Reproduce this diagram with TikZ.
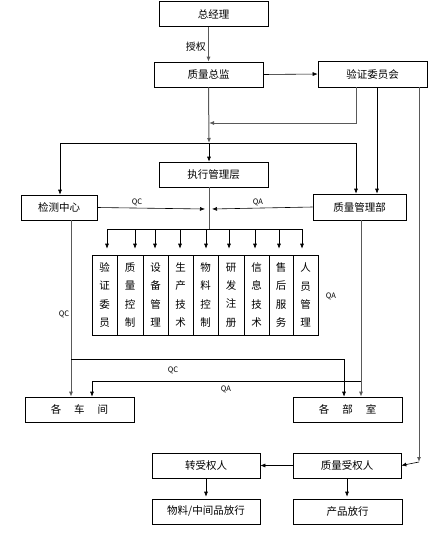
\documentclass[tikz,border=0pt]{standalone}
\usepackage{fontspec}
\setmainfont{Noto Sans CJK SC}
\usetikzlibrary{arrows.meta}
\begin{document}
\begin{tikzpicture}[x=1pt,y=-1pt,
 box/.style={draw,line width=0.6pt,minimum width=109pt,minimum height=25pt,inner sep=0pt,font=\fontsize{10.5}{12}\selectfont},
 dept/.style={draw,line width=0.6pt,minimum height=80pt,inner sep=0pt,align=center,font=\fontsize{10.5}{18.3}\selectfont},
 ln/.style={line width=0.6pt,draw=black},
 gl/.style={line width=1pt,draw=black!65},
 arr/.style={-{Latex[length=5pt,width=4pt]}},
 lab/.style={font=\fontsize{7.5}{9}\selectfont,inner sep=1pt}]
\useasboundingbox (0,0) rectangle (446,535);
% boxes
\node[box] (zjl) at (213.5,14) {总经理};
\node[box] (zjzj) at (208.5,74.5) {质量总监};
\node[box,minimum height=26pt] (yzwy) at (372.5,74) {验证委员会};
\node[box] (zxgl) at (213.5,174.5) {执行管理层};
\node[box,minimum width=76pt] (jczx) at (59,207.5) {检测中心};
\node[box,minimum width=93pt,minimum height=26pt] (zlglb) at (359.5,207) {质量管理部};
\node[box] (cj) at (79.5,409.5) {各\hspace{13pt}车\hspace{13pt}间};
\node[box] (bs) at (347.5,409.5) {各\hspace{13pt}部\hspace{13pt}室};
\node[box,minimum width=108pt] (zsq) at (206,465.5) {转受权人};
\node[box,minimum width=108pt] (zlsq) at (347,465.5) {质量受权人};
\node[box,minimum width=108pt] (wl) at (206,511.5) {物料/中间品放行};
\node[box] (cp) at (347.5,511.5) {产品放行};
% departments
\node[dept,minimum width=25pt] (d1) at (104.5,295) {验\\证\\委\\员};
\node[dept,minimum width=26pt] (d2) at (130,295) {质\\量\\控\\制};
\node[dept,minimum width=25pt] (d3) at (155.5,295) {设\\备\\管\\理};
\node[dept,minimum width=25pt] (d4) at (180.5,295) {生\\产\\技\\术};
\node[dept,minimum width=25pt] (d5) at (205.5,295) {物\\料\\控\\制};
\node[dept,minimum width=26pt] (d6) at (231,295) {研\\发\\注\\册};
\node[dept,minimum width=25pt] (d7) at (256.5,295) {信\\息\\技\\术};
\node[dept,minimum width=24pt] (d8) at (281,295) {售\\后\\服\\务};
\node[dept,minimum width=25pt] (d9) at (305.5,295) {人\\员\\管\\理};
% coordinates
\coordinate (j1) at (209,123);
\coordinate (j2) at (209,143);
\coordinate (bL) at (60,143);
\coordinate (bR) at (356,143);
\coordinate (qcEnd) at (205,209);
\coordinate (qaEnd) at (212,209);
\coordinate (j3) at (209,229);
\coordinate (k1) at (71,359);
\coordinate (k2) at (361,381);
\coordinate (r1) at (419,462);
% top connectors
\draw[gl,arr] (zjl.south -| zjzj.north) -- (zjzj.north);
\node[lab,font=\fontsize{10}{11}\selectfont,anchor=east] (sq) at (207,47) {授权};
\draw[ln,arr] (zjzj.east) -- (yzwy.west);
\draw[gl,arr] ([xshift=-16.5pt]yzwy.south) |- (j1);
\draw[gl,arr] (zjzj.south) -- (j2);
\draw[ln] (bL) -- (bR);
\draw[ln,arr] (bL) -- (bL |- jczx.north);
\draw[ln,arr] (bR) -- (bR |- zlglb.north);
\draw[ln,arr] (j2) -- (j2 |- zxgl.north);
\draw[ln,arr] ([xshift=4.5pt]yzwy.south) -- ([xshift=4.5pt]yzwy.south |- zlglb.north);
\draw[gl,arr] ([xshift=46.5pt]yzwy.south) -- (r1);
\draw[ln,arr] (r1) -- (zlsq.east);
% QC / QA to execution
\draw[ln,arr] (jczx.east) -- (qcEnd);
\node[lab] (lqc1) at (137,202) {QC};
\draw[ln,arr] (zlglb.west) -- (qaEnd);
\node[lab] (lqa1) at (258,202) {QA};
% distribution
\draw[gl] (j3 |- zxgl.south) -- (j3);
\draw[ln] (107,229) -- (302,229);
\foreach \n/\x in {1/107,2/135,3/155,4/180,5/206,6/229,7/255,8/279,9/302}{
  \coordinate (b\n) at (\x,229);
  \draw[ln,arr,shorten >=6pt] (b\n) -- (b\n |- d\n.north);
}
\node[lab] (lqa2) at (331,296) {QA};
\node[lab] (lqc2) at (64,314) {QC};
% lower connectors
\draw[gl,arr] ([xshift=12pt]jczx.south) -- ([xshift=12pt]jczx.south |- cj.north);
\draw[ln,arr] (k1) -| ([xshift=-3.5pt]bs.north);
\draw[gl,arr] ([xshift=1.5pt]zlglb.south) -- ([xshift=1.5pt]zlglb.south |- bs.north);
\draw[ln,arr] (k2) -| ([xshift=12.5pt]cj.north);
\node[lab] (lqc3) at (173,370) {QC};
\node[lab] (lqa3) at (226,389) {QA};
% bottom
\draw[ln,arr] (zlsq.west) -- (zsq.east);
\draw[ln,arr,shorten >=2pt] (zsq.south) -- (wl.north);
\draw[ln,arr,shorten >=2pt] (zlsq.south) -- (zlsq.south |- cp.north);
\end{tikzpicture}
\end{document}
